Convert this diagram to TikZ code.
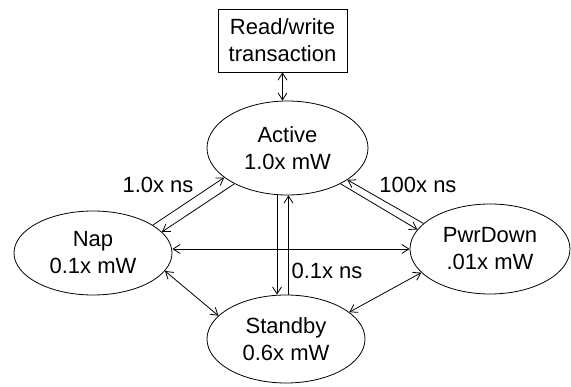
\documentclass[tikz,border=0pt]{standalone}
\usepackage{fontspec}
\setmainfont{Liberation Sans}
\usetikzlibrary{shapes.geometric,arrows.meta}
\begin{document}
\begin{tikzpicture}[x=1pt,y=-1pt,
  every node/.style={font=\fontsize{22}{27}\selectfont},
  state/.style={draw,ellipse,line width=0.8pt,inner sep=0pt,align=center},
  boxnode/.style={draw,rectangle,line width=0.8pt,inner sep=0pt,align=center,minimum width=129pt,minimum height=63pt},
  conn/.style={line width=0.8pt,arrows={-Straight Barb[length=7pt,width=9pt]}},
  conn2/.style={line width=0.8pt,arrows={Straight Barb[length=7pt,width=9pt]-Straight Barb[length=7pt,width=9pt]}},
  lab/.style={inner sep=0pt}]
\useasboundingbox (0,0) rectangle (571,387);
\node[boxnode] (box) at (282.5,40.5) {Read/write\\transaction};
\node[state,minimum width=161pt,minimum height=94pt] (act) at (287.5,148) {Active\\1.0x mW};
\node[state,minimum width=158pt,minimum height=84pt] (nap) at (93,253) {Nap\\0.1x mW};
\node[state,minimum width=158pt,minimum height=88pt] (stb) at (286,339) {Standby\\0.6x mW};
\node[state,minimum width=160pt,minimum height=90pt] (pwr) at (490,249) {PwrDown\\.01x mW};
% box - active
\draw[conn2] (box.south) -- (box.south |- act.north);
% nap - active
\draw[conn] (nap.25.8) -- (act.205.8);
\draw[conn] (act.214.2) -- (nap.17.5);
% active - pwrdown
\draw[conn] (pwr.159.6) -- (act.332.5);
\draw[conn] (act.326.6) -- (pwr.165.4);
% active - standby
\draw[conn] ([xshift=-10.5pt]act.south) -- ([xshift=-10.5pt]act.south |- stb.north);
\draw[conn] ([xshift=1pt]act.south |- stb.north) -- ([xshift=1pt]act.south);
% nap - pwrdown
\draw[conn2] (nap.east |- pwr.west) -- (pwr.west);
% nap - standby
\draw[conn2] (nap.346.5) -- (stb.161.8);
% standby - pwrdown
\draw[conn2] (stb.23) -- (pwr.199);
% labels
\node[lab] (l1) at (158,185) {1.0x ns};
\node[lab] (l2) at (418,185) {100x ns};
\node[lab] (l3) at (327,271) {0.1x ns};
\end{tikzpicture}
\end{document}
